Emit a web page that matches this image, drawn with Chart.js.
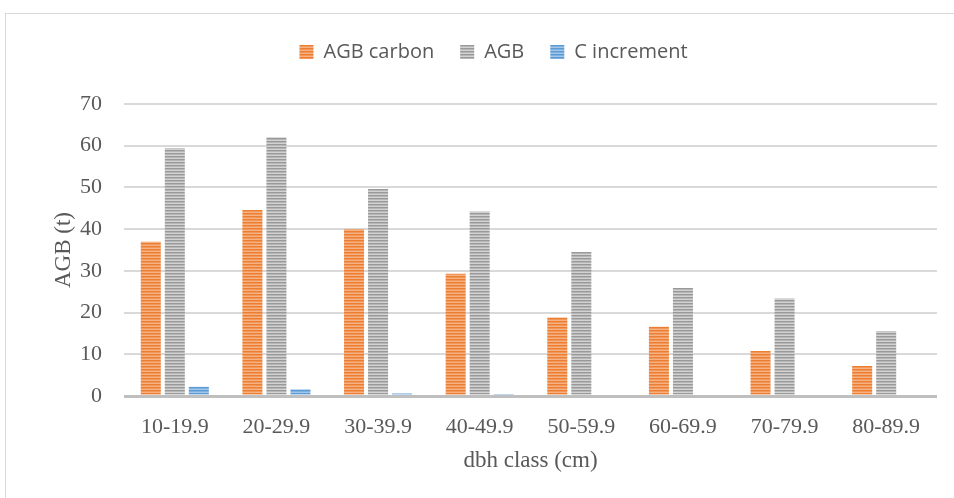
<!DOCTYPE html>
<html>
<head>
<meta charset="utf-8">
<script src="https://cdn.jsdelivr.net/npm/chart.js@4.4.1/dist/chart.umd.min.js"></script>
<style>
  html, body { margin: 0; padding: 0; background: #ffffff; }
  #wrap { position: relative; width: 954px; height: 498px; }
</style>
</head>
<body>
<div id="wrap"><canvas id="c" width="954" height="498"></canvas></div>
<script>
// dbh classes and above-ground biomass per class
const categories = ['10-19.9', '20-29.9', '30-39.9', '40-49.9', '50-59.9', '60-69.9', '70-79.9', '80-89.9'];
const agbCarbon  = [37.0, 44.6, 40.0, 29.3, 18.8, 16.6, 10.8, 7.2];
const agb        = [59.4, 62.0, 49.6, 44.2, 34.5, 25.9, 23.4, 15.5];
const cIncrement = [2.2, 1.6, 0.6, 0.2, 0, 0, 0, 0];
const yTicks     = [0, 10, 20, 30, 40, 50, 60, 70];

const SERIF = '"Liberation Serif", "Times New Roman", serif';
const SANS = '"Open Sans", "Noto Sans", sans-serif';
const TEXT = '#595959';

// narrow horizontal stripe fill
function stripes(dark, light) {
  const p = document.createElement('canvas');
  p.width = 6; p.height = 6;
  const g = p.getContext('2d');
  g.fillStyle = light; g.fillRect(0, 0, 6, 6);
  g.fillStyle = dark;
  g.fillRect(0, 0, 6, 1.5);
  g.fillRect(0, 3, 6, 1.5);
  return document.getElementById('c').getContext('2d').createPattern(p, 'repeat');
}

const orangeFill = stripes('#ED7D31', '#F5B285');
const greyFill   = stripes('#999999', '#D2D2D2');
const blueFill   = stripes('#5B9BD5', '#A3C6E8');

// thin frame around the whole chart
const frame = {
  id: 'frame',
  beforeDraw(chart) {
    const ctx = chart.ctx;
    ctx.save();
    ctx.fillStyle = '#ffffff';
    ctx.fillRect(0, 0, chart.width, chart.height);
    ctx.strokeStyle = '#d9d9d9';
    ctx.lineWidth = 1;
    ctx.strokeRect(5.5, 13.5, chart.width + 10, chart.height + 10);
    ctx.restore();
  }
};

// extra gap between the legend and the plot area
const legendGap = {
  id: 'legendGap',
  afterInit(chart) {
    const lg = chart.legend;
    if (!lg) return;
    const fit = lg.fit.bind(lg);
    lg.fit = function () { fit(); this.height += 32; };
  }
};

new Chart(document.getElementById('c'), {
  type: 'bar',
  data: {
    labels: categories,
    datasets: [
      { label: 'AGB carbon',  data: agbCarbon,  backgroundColor: orangeFill, borderWidth: 0 },
      { label: 'AGB',         data: agb,        backgroundColor: greyFill,   borderWidth: 0 },
      { label: 'C increment', data: cIncrement, backgroundColor: blueFill,   borderWidth: 0 }
    ]
  },
  options: {
    responsive: false,
    animation: false,
    devicePixelRatio: 1,
    datasets: { bar: { categoryPercentage: 0.709, barPercentage: 0.833 } },
    layout: { padding: { left: 50, right: 17, top: 16, bottom: 0 } },
    plugins: {
      tooltip: { enabled: false },
      legend: {
        position: 'top',
        labels: {
          font: { family: SANS, size: 20 },
          color: TEXT,
          boxWidth: 14,
          boxHeight: 14,
          padding: 26
        }
      }
    },
    scales: {
      x: {
        grid: { display: false, drawTicks: false },
        border: { display: false },
        ticks: { font: { family: SERIF, size: 22 }, color: TEXT, padding: 18 },
        title: {
          display: true, text: 'dbh class (cm)',
          font: { family: SERIF, size: 23 }, color: TEXT,
          padding: { top: 0, bottom: 23 }
        },
        afterFit(s) { s.height = 102; }
      },
      y: {
        min: 0, max: 70,
        afterBuildTicks(s) { s.ticks = yTicks.map(v => ({ value: v })); },
        grid: {
          drawTicks: false,
          color: c => c.tick && c.tick.value === 0 ? '#bfbfbf' : '#d9d9d9',
          lineWidth: c => c.tick && c.tick.value === 0 ? 3 : 2
        },
        border: { display: false },
        ticks: { font: { family: SERIF, size: 22 }, color: TEXT, padding: 22 },
        title: {
          display: true, text: 'AGB (t)',
          font: { family: SERIF, size: 23 }, color: TEXT,
          padding: { top: 0, bottom: 0 }
        },
        afterFit(s) { s.width = 74; }
      }
    }
  },
  plugins: [frame, legendGap]
});
</script>
</body>
</html>
